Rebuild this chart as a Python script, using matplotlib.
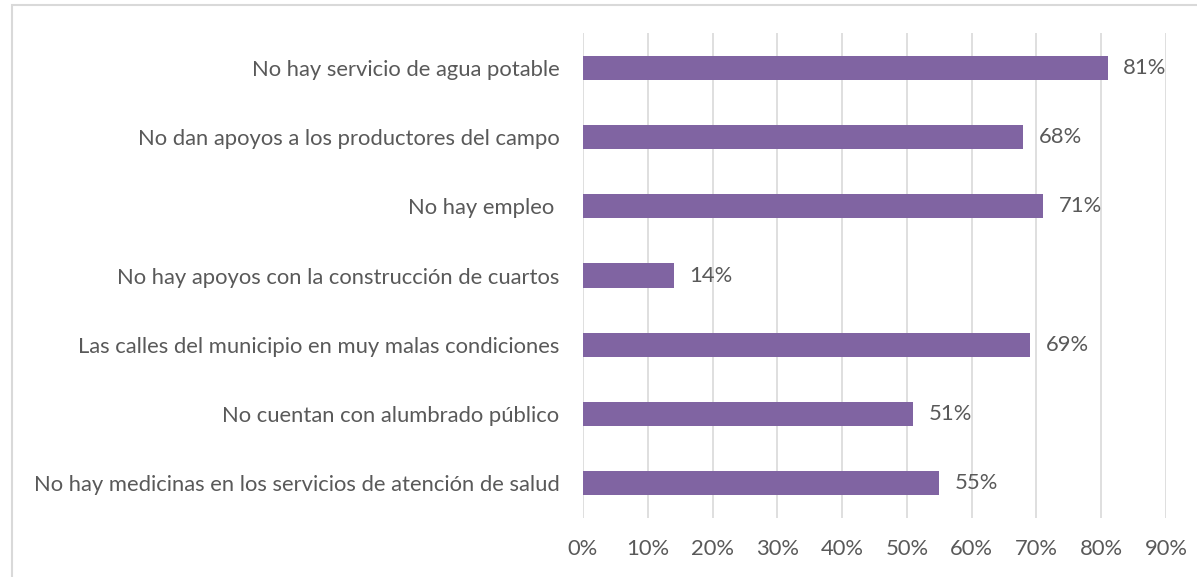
import matplotlib
matplotlib.use('Agg')
import matplotlib.pyplot as plt
from matplotlib.patches import Rectangle
from matplotlib.ticker import FuncFormatter

categories = [
    'No hay servicio de agua potable',
    'No dan apoyos a los productores del campo',
    'No hay empleo ',
    'No hay apoyos con la construcción de cuartos',
    'Las calles del municipio en muy malas condiciones',
    'No cuentan con alumbrado público',
    'No hay medicinas en los servicios de atención de salud',
]
values = [81, 68, 71, 14, 69, 51, 55]
xticks = [0, 10, 20, 30, 40, 50, 60, 70, 80, 90]

text_color = '#595959'
bar_color = '#8064A2'
grid_color = '#D9D9D9'
fs = 15.8

plt.rcParams['font.family'] = ['Lato', 'DejaVu Sans']

fig = plt.figure(figsize=(11.97, 5.77), dpi=100)
ax = fig.add_axes([583 / 1197, 1 - 518 / 577, (1166 - 583) / 1197, (518 - 33) / 577])

pos = list(range(len(categories)))
ax.barh(pos, values, height=0.35, color=bar_color, zorder=3)
for p, v in zip(pos, values):
    ax.text(v + 2.4, p, f'{v}%', va='center', ha='left', fontsize=fs, color=text_color)

ax.set_xlim(0, 90)
ax.set_ylim(len(categories) - 0.5, -0.5)
ax.set_yticks(pos)
ax.set_yticklabels(categories, fontsize=fs, color=text_color)
ax.set_xticks(xticks)
ax.xaxis.set_major_formatter(FuncFormatter(lambda x, _: f'{x:.0f}%'))
ax.tick_params(axis='x', labelsize=fs, colors=text_color, length=0, pad=15)
ax.tick_params(axis='y', length=0, pad=17)
ax.grid(axis='x', color=grid_color, linewidth=1.2, zorder=0)
for s in ax.spines.values():
    s.set_visible(False)

fig.patches.append(Rectangle((12 / 1197, -0.1), 1.2, 1.1 - 5 / 577,
                             transform=fig.transFigure, fill=False,
                             edgecolor=grid_color, linewidth=1.5))

fig.savefig('out.png', dpi=100)
